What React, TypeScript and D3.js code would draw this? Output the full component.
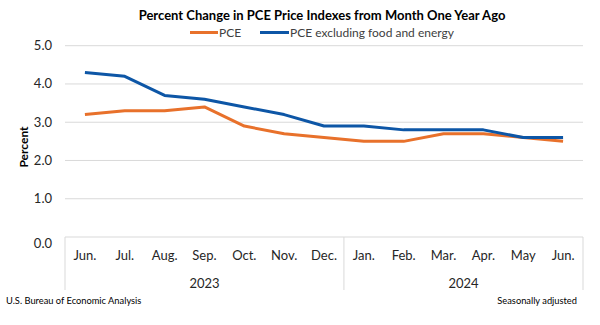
import React from "react";
import * as d3 from "d3";

const months = ["Jun.", "Jul.", "Aug.", "Sep.", "Oct.", "Nov.", "Dec.", "Jan.", "Feb.", "Mar.", "Apr.", "May", "Jun."];
const years = ["2023", "2024"];
const yearSpans = [7, 6];
const pce = [3.2, 3.3, 3.3, 3.4, 2.9, 2.7, 2.6, 2.5, 2.5, 2.7, 2.7, 2.6, 2.5];
const pceCore = [4.3, 4.2, 3.7, 3.6, 3.4, 3.2, 2.9, 2.9, 2.8, 2.8, 2.8, 2.6, 2.6];
const yTicks = [0, 1, 2, 3, 4, 5];
const seriesNames = ["PCE", "PCE excluding food and energy"];
const title = "Percent Change in PCE Price Indexes from Month One Year Ago";

const W = 600, H = 325;
const left = 65, right = 583, top = 45.7, bottom = 237;
const ORANGE = "#E8712B";
const BLUE = "#0D56A6";
const FONT = "Lato, 'Open Sans', sans-serif";

export default function App() {
  const x = d3.scaleBand<number>().domain(d3.range(months.length)).range([left, right]).padding(0);
  const y = d3.scaleLinear().domain([0, 5]).range([bottom, top]);
  const cx = (i: number) => (x(i) as number) + x.bandwidth() / 2;
  const line = d3.line<number>().x((_, i) => cx(i)).y((d) => y(d));

  let acc = 0;
  const yearBlocks = yearSpans.map((n, k) => {
    const s = acc;
    acc += n;
    return { label: years[k], start: s, end: acc };
  });

  return (
    <svg width={W} height={H} style={{ position: "absolute", left: 0, top: 0, background: "#fff" }}>
      <text x={322} y={20} textAnchor="middle" fontFamily={FONT} fontWeight="bold" fontSize={13} fill="#000">
        {title}
      </text>
      {/* legend */}
      <line x1={190} x2={218} y1={32.5} y2={32.5} stroke={ORANGE} strokeWidth={3} />
      <text x={219} y={37} fontFamily={FONT} fontSize={12} fill="#404040">{seriesNames[0]}</text>
      <line x1={260} x2={289} y1={32.5} y2={32.5} stroke={BLUE} strokeWidth={3} />
      <text x={290} y={37} fontFamily={FONT} fontSize={12} fill="#404040">{seriesNames[1]}</text>

      {/* gridlines and y labels */}
      {yTicks.map((t) => (
        <g key={t}>
          <line x1={left} x2={right} y1={y(t)} y2={y(t)} stroke="#d9d9d9" strokeWidth={1} />
          <text x={52} y={y(t) + 4.5 + (t === 0 ? 6 : 0)} textAnchor="end" fontFamily={FONT} fontSize={13} fill="#262626">
            {t.toFixed(1)}
          </text>
        </g>
      ))}
      <text transform={`translate(28,147) rotate(-90)`} textAnchor="middle" fontFamily={FONT} fontWeight="bold" fontSize={12} fill="#000">
        Percent
      </text>

      {/* category axis box */}
      {[0, ...yearBlocks.map((b) => b.end)].map((i) => {
        const xx = i === months.length ? right : (x(i) as number);
        return <line key={"v" + i} x1={xx} x2={xx} y1={bottom} y2={290} stroke="#d9d9d9" strokeWidth={1} />;
      })}
      {months.map((m, i) => (
        <text key={"m" + i} x={cx(i)} y={260} textAnchor="middle" fontFamily={FONT} fontSize={13} fill="#262626">
          {m}
        </text>
      ))}
      {yearBlocks.map((b) => {
        const x0 = x(b.start) as number;
        const x1 = b.end === months.length ? right : (x(b.end) as number);
        return (
          <text key={b.label} x={(x0 + x1) / 2} y={288} textAnchor="middle" fontFamily={FONT} fontSize={13} fill="#262626">
            {b.label}
          </text>
        );
      })}

      {/* lines */}
      <path d={line(pce) || ""} fill="none" stroke={ORANGE} strokeWidth={3} strokeLinejoin="round" />
      <path d={line(pceCore) || ""} fill="none" stroke={BLUE} strokeWidth={3} strokeLinejoin="round" />

      {/* footer */}
      <text x={6} y={304} fontFamily={FONT} fontSize={9.3} fill="#000">U.S. Bureau of Economic Analysis</text>
      <text x={577} y={304} textAnchor="end" fontFamily={FONT} fontSize={9.3} fill="#000">Seasonally adjusted</text>
    </svg>
  );
}
